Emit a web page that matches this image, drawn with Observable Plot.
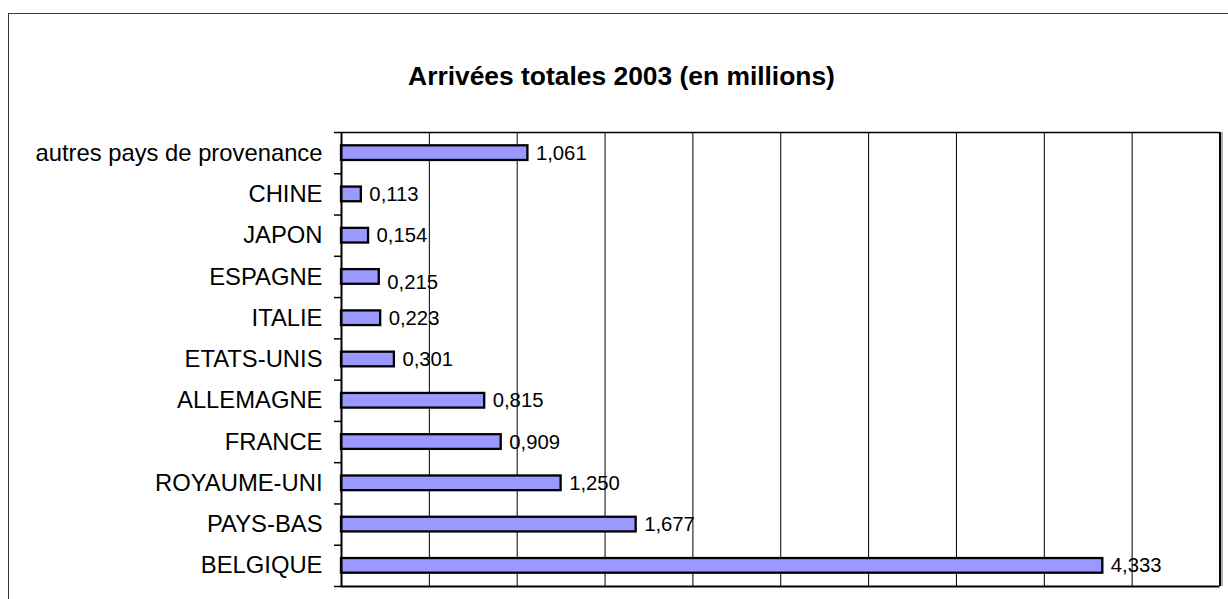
<!DOCTYPE html>
<html>
<head>
<meta charset="utf-8">
<script src="https://cdn.jsdelivr.net/npm/d3@7"></script>
<script src="https://cdn.jsdelivr.net/npm/@observablehq/plot@0.6"></script>
<style>
  html, body { margin: 0; padding: 0; background: #fff; overflow: hidden; width: 1228px; height: 599px; }
  #page { position: relative; width: 1228px; height: 599px; overflow: hidden; font-family: Arial, "Liberation Sans", sans-serif; }
  #border { position: absolute; left: 8px; top: 13px; width: 1240px; height: 620px; border: 1px solid #3a3a3a; box-sizing: border-box; }
  #title { position: absolute; left: 621.5px; top: 63.3px; transform: translateX(-50%); white-space: nowrap;
           font-size: 26.4px; line-height: 26.4px; font-weight: bold; color: #000; }
  #chart { position: absolute; left: 0; top: 100px; }
</style>
</head>
<body>
<div id="page">
  <div id="border"></div>
  <div id="title">Arrivées totales 2003 (en millions)</div>
  <div id="chart"></div>
</div>
<script>
const categories = ["autres pays de provenance", "CHINE", "JAPON", "ESPAGNE", "ITALIE", "ETATS-UNIS", "ALLEMAGNE", "FRANCE", "ROYAUME-UNI", "PAYS-BAS", "BELGIQUE"];
const values = [1.061, 0.113, 0.154, 0.215, 0.223, 0.301, 0.815, 0.909, 1.250, 1.677, 4.333];
const xDomain = [0, 5];

const data = categories.map((name, i) => ({name, i, value: values[i]}));
const fmt = v => v.toFixed(3).replace(".", ",");
const boundaries = d3.range(0, categories.length + 1);
const centers = categories.map((_, i) => i + 0.5);
const font = 'Arial, "Liberation Sans", sans-serif';

const chart = Plot.plot({
  width: 1228,
  height: 499,
  marginLeft: 341,
  marginRight: 8.5,
  marginTop: 32,
  marginBottom: 13,
  style: {fontFamily: font, background: "transparent", overflow: "visible"},
  x: {domain: xDomain, axis: null, label: null},
  y: {domain: [categories.length, 0], label: null},
  marks: [
    Plot.gridX({ticks: 10, stroke: "black", strokeOpacity: 1, strokeWidth: 1}),
    Plot.rectX(data, {x1: 0, x2: "value", y1: "i", y2: d => d.i + 1, insetTop: 13.3, insetBottom: 13.3,
      fill: "#9999ff", stroke: "black", strokeWidth: 2.3}),
    Plot.text(data.filter(d => d.name !== "ESPAGNE"), {x: "value", y: d => d.i + 0.5, text: d => fmt(d.value),
      dx: 8, textAnchor: "start", fontSize: 20.3, fill: "black"}),
    Plot.text(data.filter(d => d.name === "ESPAGNE"), {x: "value", y: d => d.i + 0.5, text: d => fmt(d.value),
      dx: 8, dy: 5.5, textAnchor: "start", fontSize: 20.3, fill: "black"}),
    Plot.ruleY([0], {stroke: "black", strokeWidth: 1.5}),
    Plot.ruleY([categories.length], {stroke: "black", strokeWidth: 2}),
    Plot.ruleX([xDomain[1]], {dx: 2, stroke: "#b0b0b0", strokeWidth: 2}),
    Plot.ruleX([xDomain[1]], {stroke: "black", strokeWidth: 2}),
    Plot.ruleX([0], {stroke: "black", strokeWidth: 2}),
    Plot.axisY(boundaries, {tickSize: 7, tickFormat: () => "", stroke: "black", strokeWidth: 1.5, label: null}),
    Plot.axisY(centers, {tickSize: 0, tickPadding: 19, tickFormat: v => categories[Math.floor(v)],
      fontSize: 23.8, fill: "black", label: null})
  ]
});
document.getElementById("chart").appendChild(chart);
</script>
</body>
</html>
